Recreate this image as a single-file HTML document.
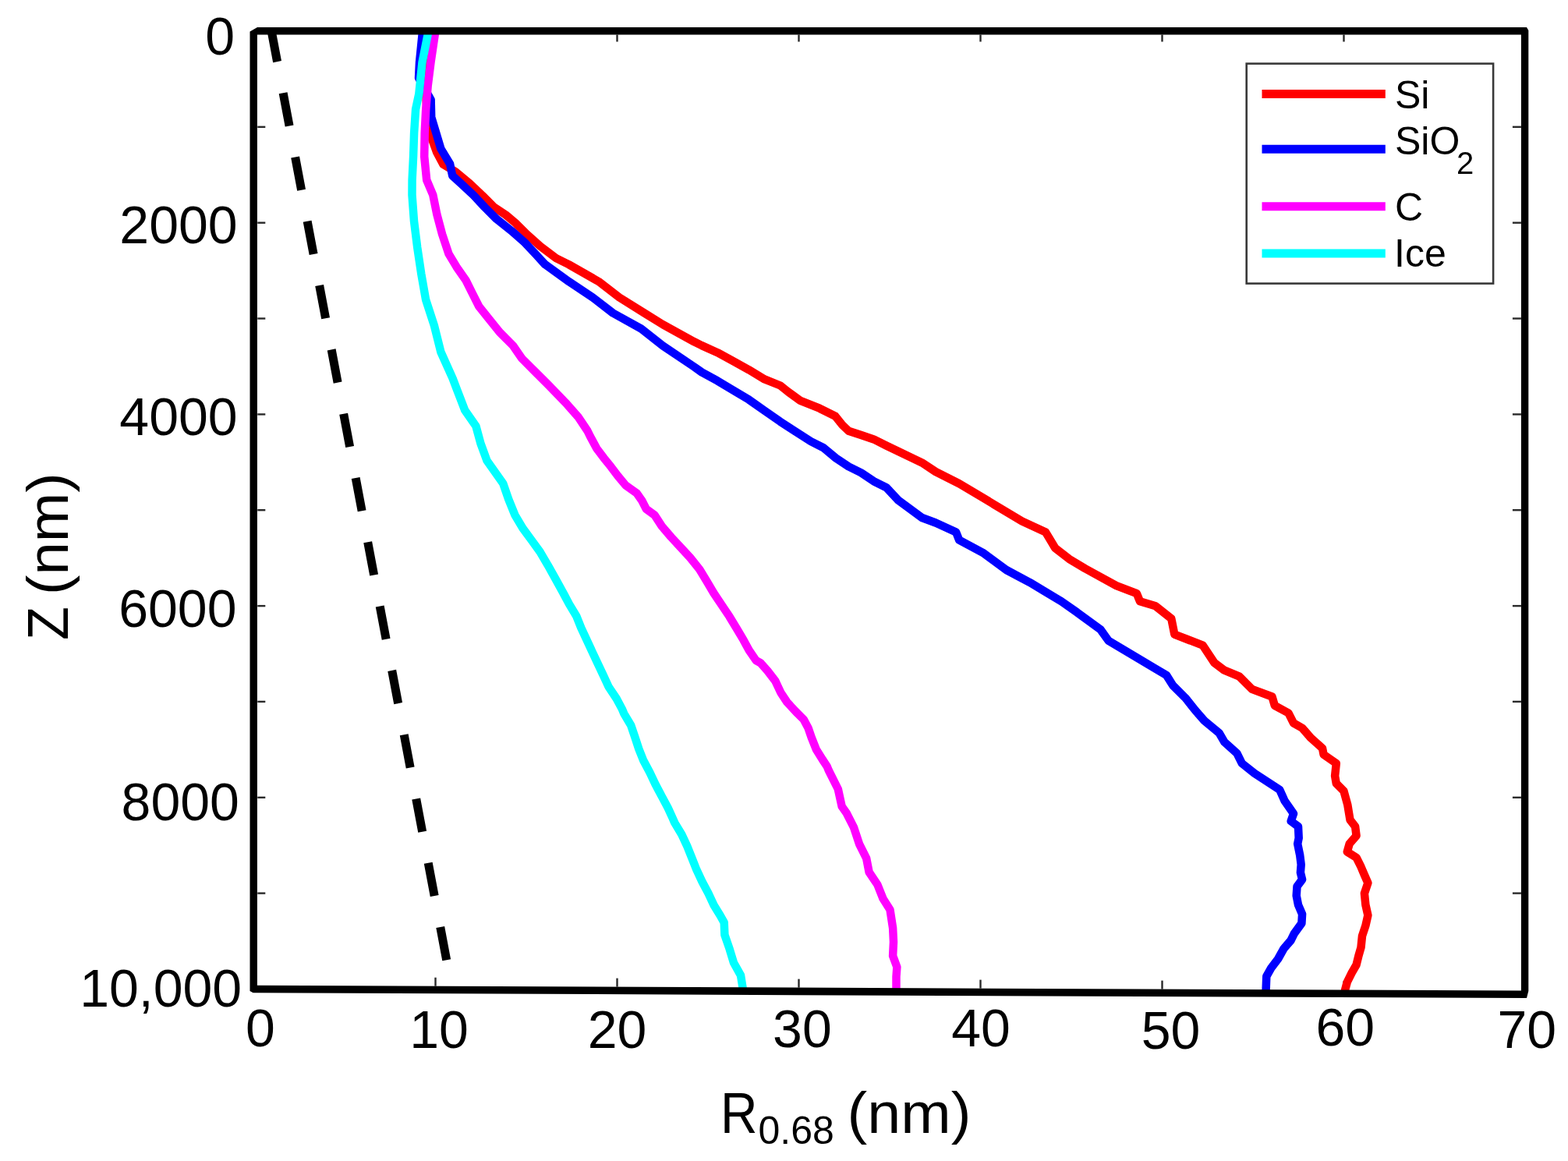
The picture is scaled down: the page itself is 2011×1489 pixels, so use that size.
<!DOCTYPE html>
<html><head><meta charset="utf-8"><title>R0.68 vs Z</title><style>
html,body{margin:0;padding:0;background:#fff;width:2011px;height:1489px;overflow:hidden}
svg{display:block}
text{font-family:"Liberation Sans",Arial,Helvetica,sans-serif;fill:#000}
</style></head><body>
<svg width="2011" height="1489" viewBox="0 0 2011 1489">
<rect x="0" y="0" width="2011" height="1489" fill="#fff"/>
<defs><clipPath id="pa"><polygon points="325.6,39.8 1955.6,39.8 1955.6,1275.2 325.6,1268.4"/></clipPath></defs>
<g>
<rect x="0" y="0" width="2011" height="1489" fill="#fff"/>
<g stroke="#2a2a2a" stroke-width="2.4" fill="none">
<line x1="330.3" y1="162.8" x2="340.3" y2="162.8"/>
<line x1="1950.9" y1="162.8" x2="1939.9" y2="162.8"/>
<line x1="330.3" y1="285.7" x2="340.3" y2="285.7"/>
<line x1="1950.9" y1="285.7" x2="1939.9" y2="285.7"/>
<line x1="330.3" y1="408.5" x2="340.3" y2="408.5"/>
<line x1="1950.9" y1="408.5" x2="1939.9" y2="408.5"/>
<line x1="330.3" y1="531.4" x2="340.3" y2="531.4"/>
<line x1="1950.9" y1="531.4" x2="1939.9" y2="531.4"/>
<line x1="330.3" y1="654.2" x2="340.3" y2="654.2"/>
<line x1="1950.9" y1="654.2" x2="1939.9" y2="654.2"/>
<line x1="330.3" y1="777.1" x2="340.3" y2="777.1"/>
<line x1="1950.9" y1="777.1" x2="1939.9" y2="777.1"/>
<line x1="330.3" y1="899.9" x2="340.3" y2="899.9"/>
<line x1="1950.9" y1="899.9" x2="1939.9" y2="899.9"/>
<line x1="330.3" y1="1022.8" x2="340.3" y2="1022.8"/>
<line x1="1950.9" y1="1022.8" x2="1939.9" y2="1022.8"/>
<line x1="330.3" y1="1145.6" x2="340.3" y2="1145.6"/>
<line x1="1950.9" y1="1145.6" x2="1939.9" y2="1145.6"/>
<line x1="558.5" y1="1264.7" x2="558.5" y2="1253.7"/>
<line x1="558.5" y1="44.5" x2="558.5" y2="53.5"/>
<line x1="791.5" y1="1265.6" x2="791.5" y2="1254.6"/>
<line x1="791.5" y1="44.5" x2="791.5" y2="53.5"/>
<line x1="1024.5" y1="1266.6" x2="1024.5" y2="1255.6"/>
<line x1="1024.5" y1="44.5" x2="1024.5" y2="53.5"/>
<line x1="1257.5" y1="1267.6" x2="1257.5" y2="1256.6"/>
<line x1="1257.5" y1="44.5" x2="1257.5" y2="53.5"/>
<line x1="1490.5" y1="1268.6" x2="1490.5" y2="1257.6"/>
<line x1="1490.5" y1="44.5" x2="1490.5" y2="53.5"/>
<line x1="1723.5" y1="1269.5" x2="1723.5" y2="1258.5"/>
<line x1="1723.5" y1="44.5" x2="1723.5" y2="53.5"/>
</g>
<g clip-path="url(#pa)" fill="none" stroke-width="10.5" stroke-linejoin="round" stroke-linecap="butt">
<line x1="348.2" y1="40" x2="579.6" y2="1268" stroke="#000" stroke-width="11" stroke-dasharray="43 40.75" stroke-dashoffset="3.2"/>
<polyline stroke="#ff0000" points="545.0,40.0 545.0,100.0 548.0,150.0 551.2,170.5 560.3,195.6 568.4,210.8 584.2,220.2 602.3,235.3 618.4,250.5 633.6,265.6 648.7,275.6 660.8,285.7 675.9,300.8 693.0,315.9 713.2,331.1 729.3,339.1 768.0,361.2 794.2,381.4 826.4,401.5 850.0,416.1 890.3,438.3 900.0,443.1 920.2,452.2 940.3,463.2 960.5,474.3 980.6,486.4 1000.8,494.5 1010.8,502.5 1025.9,513.6 1051.1,523.7 1071.3,533.8 1080.3,545.0 1088.4,552.7 1104.5,558.1 1120.6,563.4 1136.7,571.5 1182.5,593.4 1200.0,605.0 1230.2,620.2 1260.5,638.3 1310.8,668.5 1341.1,682.6 1353.2,702.8 1371.3,716.9 1391.4,729.0 1431.7,751.1 1457.9,761.2 1462.0,771.3 1482.1,777.3 1502.3,793.4 1506.3,813.6 1542.6,827.7 1557.4,850.0 1570.3,859.7 1589.6,867.7 1605.7,883.9 1631.5,893.5 1634.8,904.8 1652.5,914.5 1659.0,927.4 1670.2,933.8 1681.5,946.7 1696.0,959.6 1697.6,967.7 1713.8,979.0 1712.1,995.1 1713.8,1004.8 1723.4,1014.4 1728.3,1032.2 1731.5,1051.5 1738.1,1060.0 1739.6,1071.8 1730.7,1082.2 1727.8,1092.5 1739.6,1099.9 1745.5,1111.7 1749.9,1122.1 1754.4,1132.4 1749.9,1145.7 1751.4,1160.5 1754.4,1173.8 1751.4,1187.1 1747.0,1200.4 1745.5,1215.1 1742.5,1225.5 1739.6,1237.3 1733.7,1247.6 1727.8,1259.5 1725.0,1269.8 1725.0,1273.0"/>
<polyline stroke="#0000ff" points="541.6,40.0 541.6,44.0 538.0,80.0 537.0,100.0 552.7,128.0 552.7,130.2 553.2,150.3 559.3,170.5 565.3,190.6 574.4,205.7 577.1,210.2 580.2,225.3 591.2,235.3 607.4,250.5 621.5,265.6 636.6,280.7 655.7,295.8 672.8,310.9 687.0,326.0 699.0,339.1 729.7,361.2 760.0,381.4 786.1,401.5 822.4,421.7 850.0,443.3 890.3,470.5 900.0,477.4 920.2,488.4 940.3,500.5 960.5,512.6 980.6,526.7 1000.8,540.8 1020.9,553.9 1040.0,566.1 1056.1,574.2 1072.2,587.6 1088.4,598.4 1104.5,606.4 1120.6,617.2 1136.7,625.2 1152.3,641.8 1182.5,664.0 1200.0,670.5 1226.2,682.6 1230.2,692.7 1260.5,708.8 1290.7,731.0 1320.9,747.1 1361.2,771.3 1381.4,785.4 1411.6,807.6 1421.7,821.7 1462.0,845.8 1480.0,856.4 1496.1,866.1 1504.2,879.0 1520.3,895.1 1533.2,911.3 1544.5,924.2 1563.8,940.3 1570.3,951.6 1586.4,966.1 1592.8,979.0 1609.0,991.9 1641.2,1012.8 1647.7,1027.3 1659.0,1043.5 1655.7,1053.1 1665.0,1060.0 1665.7,1074.8 1664.2,1082.2 1667.2,1096.9 1668.7,1108.8 1667.9,1119.1 1670.1,1128.0 1663.5,1136.8 1662.7,1148.7 1665.0,1160.5 1670.1,1172.3 1669.4,1184.1 1659.8,1197.4 1655.4,1206.3 1646.5,1216.6 1639.1,1229.9 1630.2,1241.7 1624.3,1252.1 1623.6,1269.8 1623.6,1272.0"/>
<polyline stroke="#ff00ff" points="557.8,40.0 557.8,44.0 552.5,80.0 548.7,110.0 546.2,140.2 544.7,170.5 544.2,200.7 547.2,230.9 555.3,250.0 560.4,275.2 567.1,300.4 575.5,325.6 585.6,342.4 597.3,359.2 605.7,376.0 614.1,392.7 627.5,409.5 641.0,426.3 657.8,443.1 669.5,459.9 686.3,476.7 703.1,493.5 725.2,516.3 741.3,534.4 753.4,552.5 757.1,560.0 765.2,575.1 774.3,587.2 783.3,598.3 792.4,610.4 802.5,622.5 816.6,632.5 823.6,642.6 828.7,652.7 839.7,660.8 848.8,674.9 860.9,689.0 874.0,703.1 885.1,715.1 897.2,730.2 906.3,745.3 915.3,760.5 925.4,775.6 935.5,790.7 944.6,805.8 953.6,820.9 960.7,834.0 969.7,847.1 975.2,850.1 984.3,860.2 994.3,873.2 1001.4,888.4 1009.4,900.5 1020.5,912.5 1030.6,922.6 1036.6,933.7 1040.7,945.8 1046.7,960.9 1054.8,974.0 1060.8,983.1 1062.7,987.9 1074.8,1012.0 1079.7,1034.3 1086.0,1043.3 1095.0,1061.2 1102.1,1082.7 1111.1,1100.6 1114.6,1118.5 1125.4,1134.6 1132.5,1152.5 1141.5,1166.8 1145.1,1190.1 1146.0,1208.0 1145.1,1225.9 1150.4,1240.2 1149.5,1252.7 1149.5,1270.0"/>
<polyline stroke="#00ffff" points="548.7,40.0 548.7,44.0 541.5,80.0 537.3,120.6 533.1,140.2 531.1,170.5 530.1,200.7 528.6,230.9 528.5,250.0 531.0,283.6 535.2,317.2 540.2,350.8 546.1,384.3 557.0,417.9 565.4,451.5 580.5,485.1 586.2,500.1 596.3,526.3 610.4,546.5 616.4,568.6 624.5,590.8 645.2,620.0 652.2,640.2 660.3,660.3 670.4,677.4 681.5,692.5 692.5,707.7 702.6,724.8 712.7,742.9 723.8,763.1 730.2,775.1 739.3,790.2 745.3,805.3 752.4,820.5 759.4,835.6 766.5,850.7 773.6,865.8 780.6,880.9 790.7,896.0 797.7,909.1 800.2,915.1 809.2,930.2 814.3,945.3 819.3,960.5 825.3,975.6 833.4,990.7 840.5,1005.8 848.5,1020.9 856.6,1036.0 862.6,1049.1 865.2,1055.1 874.3,1070.2 881.3,1085.3 887.4,1100.5 893.4,1115.6 900.5,1130.7 908.5,1145.8 915.6,1160.9 923.6,1174.0 928.7,1183.1 929.4,1199.0 935.6,1216.9 941.0,1234.8 950.0,1250.9 952.6,1267.0 952.6,1270.0"/>
</g>
<path fill="#000" fill-rule="evenodd" d="M320.5,40.6 L330.0,35.0 L1958.0,35.0 L1960.3,39.0 L1960.3,1271.0 L1958.0,1280.0 L324.6,1273.3 L320.5,1271.0 Z M329.9,44.6 L1950.9,44.6 L1950.9,1270.5 L329.9,1263.7 Z"/>
<rect x="1598.7" y="81.6" width="316.4" height="282" fill="#fff" stroke="#383838" stroke-width="2.6"/>
<line x1="1618.5" y1="120.5" x2="1776.8" y2="120.5" stroke="#ff0000" stroke-width="11"/>
<line x1="1618.5" y1="191.3" x2="1776.8" y2="191.3" stroke="#0000ff" stroke-width="11"/>
<line x1="1618.5" y1="264.7" x2="1776.8" y2="264.7" stroke="#ff00ff" stroke-width="11"/>
<line x1="1618.5" y1="325" x2="1776.8" y2="325" stroke="#00ffff" stroke-width="11"/>
<text x="1789" y="138.5" font-size="50">Si</text>
<text x="1789" y="198" font-size="50">SiO</text>
<text x="1868" y="223" font-size="40">2</text>
<text x="1789" y="283.4" font-size="50">C</text>
<text x="1788" y="341.7" font-size="50">Ice</text>
<text x="301.0" y="70.2" font-size="68" text-anchor="end">0</text>
<text x="304.6" y="312.0" font-size="68" text-anchor="end">2000</text>
<text x="304.6" y="558.3" font-size="68" text-anchor="end">4000</text>
<text x="303.5" y="803.8" font-size="68" text-anchor="end">6000</text>
<text x="306.9" y="1052.1" font-size="68" text-anchor="end">8000</text>
<text x="310.2" y="1291.0" font-size="68" text-anchor="end">10,000</text>
<text x="333.8" y="1342.0" font-size="68" text-anchor="middle">0</text>
<text x="563.0" y="1344.4" font-size="68" text-anchor="middle">10</text>
<text x="791.5" y="1344.0" font-size="68" text-anchor="middle">20</text>
<text x="1028.9" y="1342.9" font-size="68" text-anchor="middle">30</text>
<text x="1258.1" y="1342.0" font-size="68" text-anchor="middle">40</text>
<text x="1501.5" y="1344.6" font-size="68" text-anchor="middle">50</text>
<text x="1725.3" y="1341.0" font-size="68" text-anchor="middle">60</text>
<text x="1958.2" y="1343.9" font-size="68" text-anchor="middle">70</text>
<text x="924.1" y="1452.8" font-size="75" textLength="47.5" lengthAdjust="spacingAndGlyphs">R</text>
<text x="972.5" y="1466.6" font-size="50">0.68</text>
<text x="1086.5" y="1452.8" font-size="75" textLength="159" lengthAdjust="spacingAndGlyphs">(nm)</text>
<text transform="translate(87.1,821) rotate(-90)" font-size="75" textLength="43" lengthAdjust="spacingAndGlyphs">Z</text>
<text transform="translate(87.1,763) rotate(-90)" font-size="75" textLength="156.7" lengthAdjust="spacingAndGlyphs">(nm)</text>
</g>
</svg></body></html>
